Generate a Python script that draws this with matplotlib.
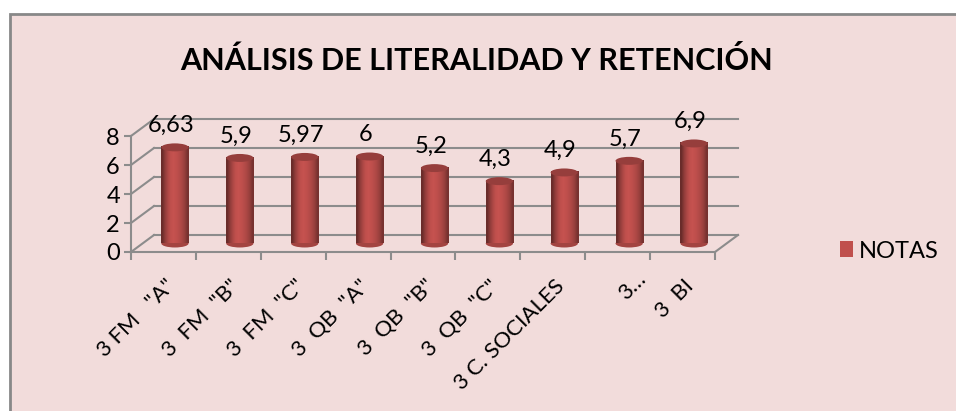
import numpy as np
import matplotlib
matplotlib.use("Agg")
import matplotlib.pyplot as plt
import matplotlib.transforms as mtransforms
from matplotlib.patches import Rectangle, Ellipse

plt.rcParams['font.family'] = ['Lato', 'DejaVu Sans']

# data
categories = ['3 FM   "A"', '3  FM  "B"', '3  FM  "C"', '3  QB  "A"', '3  QB  "B"',
              '3  QB  "C"', '3 C. SOCIALES', '3…', '3  BI']
notas = [6.63, 5.9, 5.97, 6, 5.2, 4.3, 4.9, 5.7, 6.9]
value_labels = ['6,63', '5,9', '5,97', '6', '5,2', '4,3', '4,9', '5,7', '6,9']
yticks = [0, 2, 4, 6, 8]

bg = '#F2DCDB'
grid_col = '#8C8C8C'
red = '#C0504D'

fig = plt.figure(figsize=(9.56, 4.11), dpi=100)
fig.patch.set_facecolor('white')
# chart area frame (cut off at right and bottom)
fig.patches.append(Rectangle((10 / 956, -0.2), 1.3, 397 / 411 + 0.2, transform=fig.transFigure,
                             facecolor=bg, edgecolor='#888888', lw=2, zorder=-5))

ax = fig.add_axes([131 / 956, 159 / 411, 584 / 956, 116 / 411])
ax.set_facecolor('none')
for s in ax.spines.values():
    s.set_visible(False)

# 3d depth offset in pixels
dx, dy = 23, 17
back = ax.transData + mtransforms.ScaledTranslation(dx / 100, dy / 100, fig.dpi_scale_trans)
mid = ax.transData + mtransforms.ScaledTranslation(dx / 200, dy / 200, fig.dpi_scale_trans)
lab = ax.transData + mtransforms.ScaledTranslation(dx / 300, dy / 200, fig.dpi_scale_trans)

ax.set_xlim(-0.5, len(categories) - 0.5)
ax.set_ylim(0, 8)
x0, x1 = -0.5, len(categories) - 0.5
for v in yticks:
    ax.plot([x0, x1], [v, v], color=grid_col, lw=1.5, transform=back, clip_on=False, zorder=1)
    # side wall diagonal
    p0 = ax.transData.transform((x0, v))
    p1 = back.transform((x0, v))
    ax.plot([p0[0], p1[0]], [p0[1], p1[1]], color=grid_col, lw=1.5, transform=None,
            clip_on=False, zorder=1)
# floor right edge
p0 = ax.transData.transform((x1, 0))
p1 = back.transform((x1, 0))
ax.plot([p0[0], p1[0]], [p0[1], p1[1]], color=grid_col, lw=1.5, transform=None, clip_on=False)
# front axes
ax.plot([x0, x1], [0, 0], color=grid_col, lw=1.5, clip_on=False)
ax.plot([x0, x0], [0, 8], color=grid_col, lw=1.5, clip_on=False)

ax.set_yticks(yticks)
ax.set_xticks(np.arange(len(categories) + 1) - 0.5)
ax.set_xticklabels([])
ax.tick_params(axis='y', length=5, color=grid_col, width=1.5, labelsize=17, pad=3)
ax.tick_params(axis='x', length=6, color=grid_col, width=1.5, direction='out')

for i, c in enumerate(categories):
    shift = 0.25 if c == '3…' else 0.0
    ax.text(i + 0.02 + shift, -1.65 + shift * 2, c, rotation=45, ha='right', va='top',
            rotation_mode='anchor', fontsize=16, transform=ax.transData)

# cylinders
w = 0.42
eh = 0.55
grad = np.array([0.55, 0.75, 0.9, 1.0, 1.03, 1.0, 0.95, 0.88, 0.78, 0.62])
base = np.array(matplotlib.colors.to_rgb(red))
img = np.clip(base[None, None, :] * grad[None, :, None], 0, 1)
for i, v in enumerate(notas):
    ax.imshow(img, extent=[i - w / 2, i + w / 2, 0, v], aspect='auto',
              interpolation='bilinear', transform=mid, zorder=3, clip_on=False)
    ax.add_patch(Ellipse((i, 0), w, eh, facecolor=tuple(base * 0.85), edgecolor='none',
                         transform=mid, zorder=2.9, clip_on=False))
    ax.add_patch(Ellipse((i, v), w, eh, facecolor=tuple(base * 0.78), edgecolor='none',
                         transform=mid, zorder=4, clip_on=False))
    ax.annotate(value_labels[i], (i, v), xytext=(0, 8), textcoords='offset points',
                xycoords=lab, ha='center', va='bottom', fontsize=17)

ax.set_xlim(-0.5, len(categories) - 0.5)
ax.set_ylim(0, 8)

fig.text(0.498, 1 - 60 / 411, 'ANÁLISIS DE LITERALIDAD Y RETENCIÓN', ha='center', va='center',
         fontsize=22, fontweight='bold')

handle = Rectangle((0, 0), 1, 1, facecolor=red, edgecolor='none')
fig.legend([handle], ['NOTAS'], loc='center left', bbox_to_anchor=(840 / 956, 160 / 411),
           frameon=False, fontsize=17, handlelength=0.55, handleheight=0.65, handletextpad=0.25,
           borderaxespad=0, borderpad=0)

fig.savefig('out.png', dpi=100, facecolor=fig.get_facecolor())
